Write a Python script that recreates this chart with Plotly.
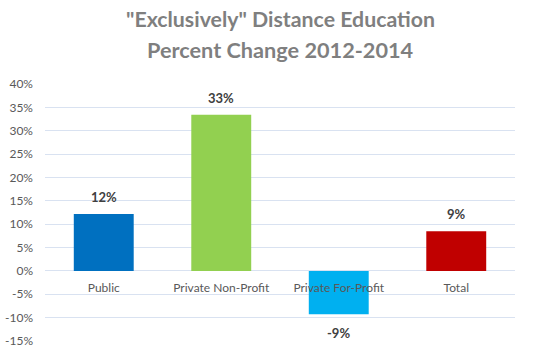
import plotly.graph_objects as go

categories = ["Public", "Private Non-Profit", "Private For-Profit", "Total"]
values = [12.2, 33.4, -9.3, 8.5]
labels = ["12%", "33%", "-9%", "9%"]
colors = ["#0070C0", "#92D050", "#00B0F0", "#C00000"]
tick_vals = [-15, -10, -5, 0, 5, 10, 15, 20, 25, 30, 35, 40]
tick_text = [f"{v}%" for v in tick_vals]
title_lines = ["\"Exclusively\" Distance Education", "Percent Change 2012-2014"]

FONT = "Lato"
W, H = 560, 356
TOP, BOTTOM, LEFT, RIGHT = 84, 15, 45, 45
PLOT_H = H - TOP - BOTTOM

fig = go.Figure()
fig.add_trace(go.Bar(
    x=categories, y=values,
    marker=dict(color=colors, line=dict(width=0)),
    width=0.51,
    hoverinfo="skip",
))

for c, v, t in zip(categories, values, labels):
    fig.add_annotation(
        x=c, y=v, text=f"<b>{t}</b>", showarrow=False,
        yshift=17 if v >= 0 else -19,
        font=dict(family=FONT, size=13, color="#404040"),
    )

for line, ypx, fs in zip(title_lines, [19, 50], [21.3, 21.7]):
    fig.add_annotation(
        xref="paper", yref="paper", x=0.5,
        y=1 + (TOP - ypx) / PLOT_H,
        xanchor="center", yanchor="middle", showarrow=False,
        text=f"<b>{line}</b>",
        font=dict(family=FONT, size=fs, color="#7F7F7F"),
    )

fig.update_layout(
    width=W, height=H,
    margin=dict(l=LEFT, r=RIGHT, t=TOP, b=BOTTOM, autoexpand=False),
    paper_bgcolor="white", plot_bgcolor="white",
    showlegend=False,
    hovermode=False,
    xaxis=dict(
        anchor="free", position=15 / 55, automargin=False,
        showgrid=False, showline=False, zeroline=False,
        ticks="", ticklabelstandoff=8,
        tickfont=dict(family=FONT, size=12, color="#595959"),
        fixedrange=True,
    ),
    yaxis=dict(
        range=[-15, 40], tickvals=tick_vals, ticktext=tick_text,
        automargin=False,
        showgrid=True, gridcolor="#D9E2F1", gridwidth=1,
        zeroline=True, zerolinecolor="#D9E2F1", zerolinewidth=1,
        showline=False, ticks="", ticklabelstandoff=11,
        tickfont=dict(family=FONT, size=12, color="#595959"),
        fixedrange=True,
    ),
    bargap=0.49,
)

fig.write_html(
    "out.html",
    config={"displayModeBar": False, "staticPlot": True},
    post_script="document.body.style.margin='0';document.body.style.overflow='hidden';",
)
